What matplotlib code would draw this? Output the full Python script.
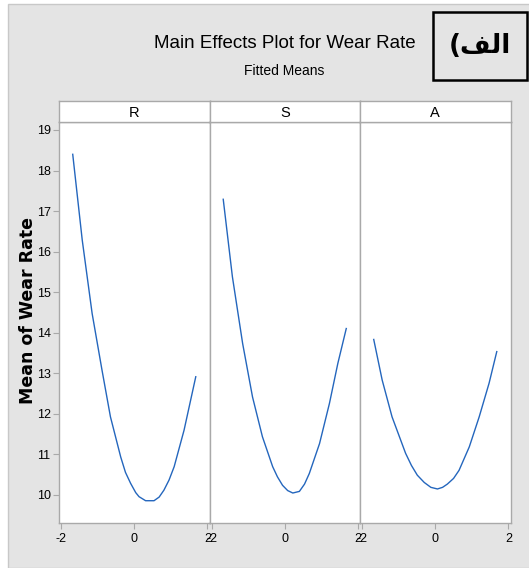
import matplotlib
matplotlib.use("Agg")
from matplotlib import pyplot as plt
import matplotlib.patches as mpatches

# fitted means (coded levels)
factors = ["R", "S", "A"]
r_x = [-1.68, -1.42, -1.15, -0.88, -0.65, -0.37, -0.24, -0.10, 0.04, 0.13, 0.31, 0.54, 0.68, 0.81, 0.95, 1.09, 1.36, 1.68]
r_y = [18.40, 16.28, 14.47, 13.07, 11.92, 10.93, 10.55, 10.28, 10.05, 9.95, 9.85, 9.85, 9.94, 10.11, 10.36, 10.69, 11.59, 12.91]
s_x = [-1.68, -1.43, -1.15, -0.88, -0.61, -0.33, -0.20, -0.06, 0.08, 0.22, 0.40, 0.54, 0.67, 0.95, 1.22, 1.45, 1.68]
s_y = [17.29, 15.38, 13.73, 12.41, 11.43, 10.69, 10.44, 10.23, 10.10, 10.04, 10.08, 10.26, 10.52, 11.26, 12.25, 13.24, 14.10]
a_x = [-1.68, -1.45, -1.18, -0.81, -0.65, -0.49, -0.30, -0.12, 0.06, 0.20, 0.33, 0.50, 0.65, 0.93, 1.20, 1.47, 1.68]
a_y = [13.83, 12.83, 11.92, 11.02, 10.72, 10.48, 10.30, 10.18, 10.14, 10.18, 10.26, 10.40, 10.60, 11.18, 11.92, 12.75, 13.53]
series = [(r_x, r_y), (s_x, s_y), (a_x, a_y)]
x_ticks = [-2, 0, 2]
y_ticks = [10, 11, 12, 13, 14, 15, 16, 17, 18, 19]

sans = ["Liberation Sans", "DejaVu Sans"]
bg = "#e4e4e4"
edge = "#a9a9a9"
line_col = "#2466bd"

W, H = 529, 568
fig = plt.figure(figsize=(W / 100, H / 100), dpi=100)
fig.patch.set_facecolor("white")
fig.patches.append(mpatches.Rectangle((8 / W, 0), 1, 1 - 4 / H, transform=fig.transFigure,
                                      facecolor=bg, edgecolor="#c8c8c8", lw=1, zorder=-5))

left, right = 59, 510.5
bottom, top, strip_top = 523.4, 122.3, 100.7
pw = (right - left) / 3

for i, (name, (xs, ys)) in enumerate(zip(factors, series)):
    x0 = left + i * pw
    ax = fig.add_axes([x0 / W, 1 - bottom / H, pw / W, (bottom - top) / H])
    ax.plot(xs, ys, color=line_col, lw=1.0)
    ax.set_xlim(-2.055, 2.055)
    ax.set_ylim(9.29, 19.19)
    ax.set_facecolor("white")
    for s in ax.spines.values():
        s.set_color(edge)
        s.set_linewidth(1.0)
    ax.set_xticks(x_ticks)
    ax.set_xticklabels([str(t) for t in x_ticks], family=sans, fontsize=9)
    ax.tick_params(axis="x", length=4, color=edge, pad=3)
    if i == 0:
        ax.set_yticks(y_ticks)
        ax.set_yticklabels([str(t) for t in y_ticks], family=sans, fontsize=9)
        ax.tick_params(axis="y", length=4, color=edge, pad=2)
    else:
        ax.set_yticks([])

    # strip header
    sx = fig.add_axes([x0 / W, 1 - top / H, pw / W, (top - strip_top) / H])
    sx.set_xticks([])
    sx.set_yticks([])
    sx.set_facecolor("white")
    for s in sx.spines.values():
        s.set_color(edge)
        s.set_linewidth(1.0)
    sx.text(0.5, 0.45, name, ha="center", va="center", family=sans, fontsize=10.5,
            transform=sx.transAxes)

fig.text(28 / W, 1 - 310 / H, "Mean of Wear Rate", rotation=90, ha="center", va="center",
         fontsize=12.5, fontweight="bold", family="DejaVu Sans")
fig.text(285 / W, 1 - 43 / H, "Main Effects Plot for Wear Rate", ha="center", va="center",
         fontsize=13.5, family=sans)
fig.text(284 / W, 1 - 71 / H, "Fitted Means", ha="center", va="center", fontsize=10,
         family=sans)

# label box (Arabic, glyphs in visual order)
fig.patches.append(mpatches.Rectangle((433 / W, 1 - 80 / H), 94 / W, 68 / H,
                                      transform=fig.transFigure, facecolor=bg,
                                      edgecolor="black", lw=1.8, zorder=1))
fig.text(480 / W, 1 - 46 / H, "(\uFED2\uFEDF\uFE8D", ha="center", va="center",
         fontsize=19, fontweight="bold", family="DejaVu Sans", zorder=2)

fig.savefig("out.png", dpi=100)
